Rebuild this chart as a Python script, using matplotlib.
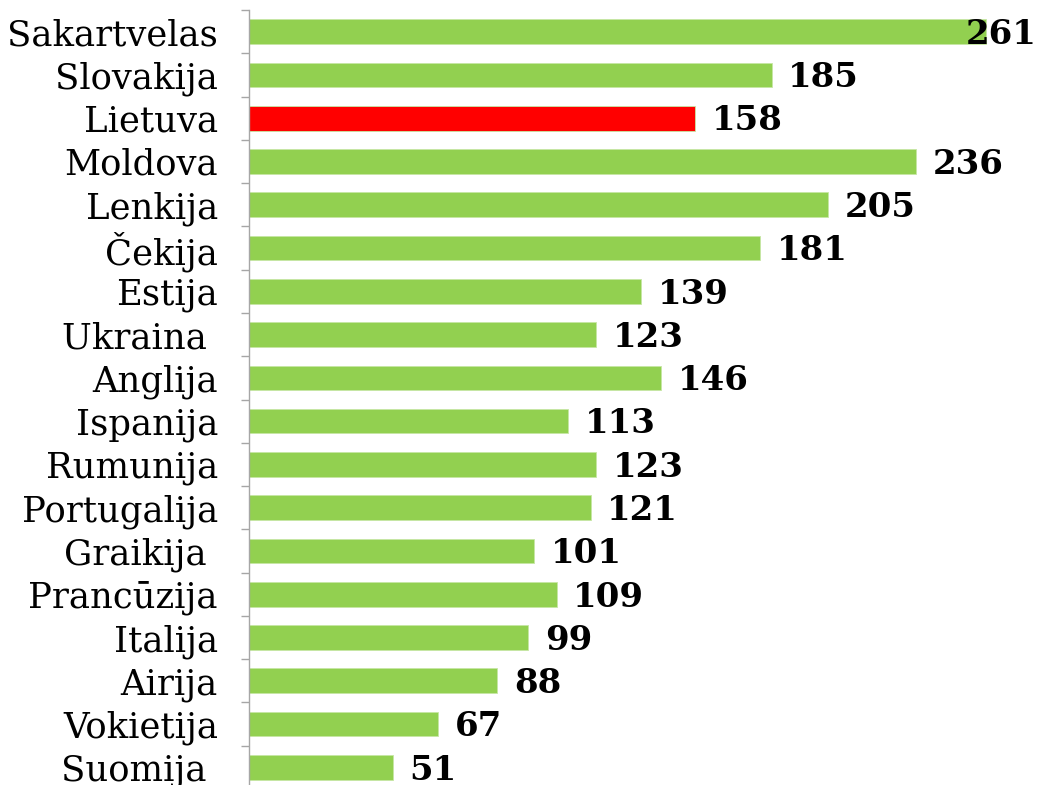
import matplotlib
matplotlib.use("Agg")
import matplotlib.pyplot as plt

# countries from top to bottom and their values
countries = ['Sakartvelas', 'Slovakija', 'Lietuva', 'Moldova', 'Lenkija', 'Čekija',
             'Estija', 'Ukraina ', 'Anglija', 'Ispanija', 'Rumunija', 'Portugalija',
             'Graikija ', 'Prancūzija', 'Italija', 'Airija', 'Vokietija', 'Suomija ']
values = [261, 185, 158, 236, 205, 181, 139, 123, 146, 113, 123, 121, 101, 109, 99, 88, 67, 51]
highlight = 'Lietuva'

green = '#92D050'
red = '#FF0000'
colors = [red if c == highlight else green for c in countries]

fig = plt.figure(figsize=(10.39, 7.85), dpi=100)
ax = fig.add_axes([248.5 / 1039, -4 / 785, (1039 - 248.5) / 1039, 779 / 785])

pos = list(range(len(countries)))
ax.barh(pos, values, height=0.57, color=colors, edgecolor='#C6E6A4', linewidth=0.6)

xmax = 279.6
ax.set_xlim(0, xmax)
ax.set_ylim(len(countries) - 0.5, -0.5)

# labels on the left
ax.set_yticks(pos)
ax.set_yticklabels(countries, fontsize=25.5, family='DejaVu Serif')
ax.tick_params(axis='y', which='major', length=0, pad=22)
ax.set_yticks([p - 0.5 for p in pos] + [len(pos) - 0.5], minor=True)
ax.tick_params(axis='y', which='minor', length=6, width=1, color='#A6A6A6', direction='out')
ax.set_xticks([])

for s in ['top', 'right', 'bottom']:
    ax.spines[s].set_visible(False)
ax.spines['left'].set_color('#A6A6A6')
ax.spines['left'].set_linewidth(1)

# value labels
for p, v in zip(pos, values):
    if v + 25 > xmax:
        ax.annotate(str(v), (xmax, p), xytext=(-2, -2), textcoords='offset points',
                    ha='right', va='center', fontsize=24.5, fontweight='bold',
                    family='DejaVu Serif')
    else:
        ax.annotate(str(v), (v, p), xytext=(12, -2), textcoords='offset points',
                    ha='left', va='center', fontsize=24.5, fontweight='bold',
                    family='DejaVu Serif')

fig.savefig('out.png', dpi=100)
